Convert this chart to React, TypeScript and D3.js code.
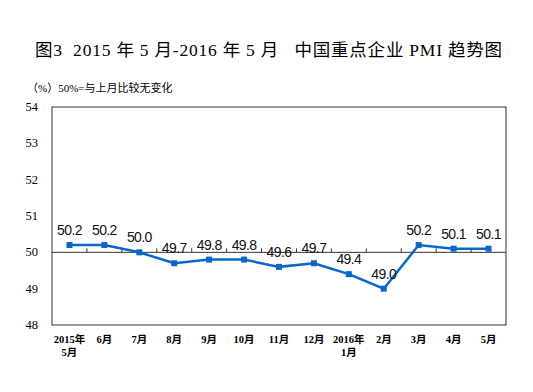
import React from "react";
import * as d3 from "d3";

const months = ["2015年\n5月", "6月", "7月", "8月", "9月", "10月", "11月", "12月", "2016年\n1月", "2月", "3月", "4月", "5月"];
const pmi = [50.2, 50.2, 50.0, 49.7, 49.8, 49.8, 49.6, 49.7, 49.4, 49.0, 50.2, 50.1, 50.1];
const yTicks = [48, 49, 50, 51, 52, 53, 54];

const width = 533;
const height = 392;
const margin = { top: 107, right: 27, bottom: 67, left: 52 };

const App = () => {
  const x = d3.scaleBand()
    .domain(months)
    .range([margin.left, width - margin.right]);

  const y = d3.scaleLinear()
    .domain([48, 54])
    .range([height - margin.bottom, margin.top]);

  const line = d3.line<number>()
    .x((d, i) => x(months[i])! + x.bandwidth() / 2)
    .y(d => y(d));

  const y50 = y(50);
  const serif = "'Liberation Serif', 'Times New Roman', serif";
  const cjk = "'Liberation Serif', 'Noto Sans CJK SC', serif";

  return (
    <svg width={width} height={height} style={{ position: "absolute", left: 0, top: 0, background: "#fff" }}>
      <text x={35} y={56} fontSize={17.5} fontFamily={cjk} fill="#000"
        style={{ whiteSpace: "pre" }} textLength={467} lengthAdjust="spacing">
        {"图3  2015 年 5 月-2016 年 5 月   中国重点企业 PMI 趋势图"}
      </text>
      <text x={27} y={92} fontSize={11} fontFamily={cjk} fill="#000">（%）50%=与上月比较无变化</text>

      {/* frame */}
      <rect x={margin.left} y={margin.top} width={width - margin.left - margin.right}
        height={height - margin.top - margin.bottom} fill="none" stroke="#333" strokeWidth={1} />

      {yTicks.map(t => (
        <text key={t} x={38} y={y(t) + 4} textAnchor="end" fontSize={12.5} fontFamily={serif} fill="#000">{t}</text>
      ))}

      {/* 50 line with ticks */}
      <line x1={margin.left} x2={width - margin.right} y1={y50} y2={y50} stroke="#333" strokeWidth={1} />
      {months.slice(1).map(m => (
        <line key={m} x1={x(m)!} x2={x(m)!} y1={y50} y2={y50 - 4} stroke="#333" strokeWidth={1} />
      ))}

      <path d={line(pmi)!} fill="none" stroke="#0a66c8" strokeWidth={2.5} />
      {pmi.map((v, i) => (
        <rect key={i} x={x(months[i])! + x.bandwidth() / 2 - 3} y={y(v) - 3} width={6} height={6} fill="#0a66c8" />
      ))}
      {pmi.map((v, i) => (
        <text key={"l" + i} x={x(months[i])! + x.bandwidth() / 2} y={y(v) - 10} textAnchor="middle"
          fontSize={14} fontFamily="'Liberation Sans', Arial, sans-serif" fill="#111" letterSpacing={-0.6}>
          {v.toFixed(1)}
        </text>
      ))}

      {months.map(m => {
        const lines = m.split("\n");
        return (
          <text key={"x" + m} x={x(m)! + x.bandwidth() / 2} y={343} textAnchor="middle"
            fontSize={10.5} fontFamily={cjk} fontWeight="bold" fill="#000">
            {lines.map((s, j) => (
              <tspan key={j} x={x(m)! + x.bandwidth() / 2} dy={j === 0 ? 0 : 13}>{s}</tspan>
            ))}
          </text>
        );
      })}
    </svg>
  );
};

export default App;
